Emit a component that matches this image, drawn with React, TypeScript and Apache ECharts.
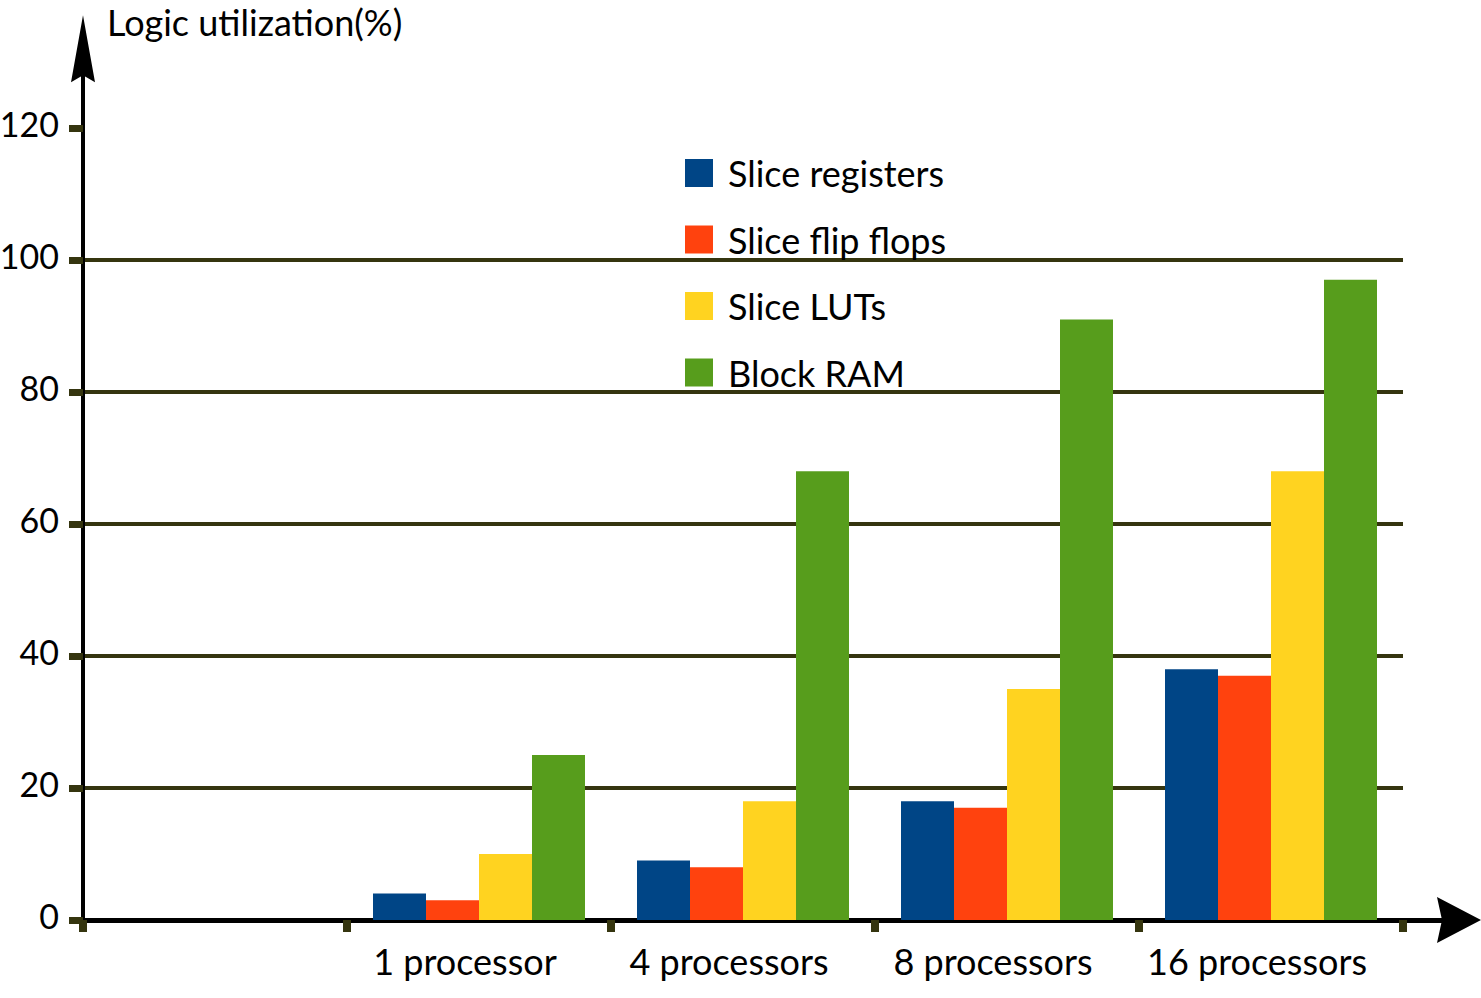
import React, { useEffect, useRef } from 'react';
import * as echarts from 'echarts';

const categories = ['', '1 processor', '4 processors', '8 processors', '16 processors'];
const seriesNames = ['Slice registers', 'Slice flip flops', 'Slice LUTs', 'Block RAM'];
const sliceRegisters = ['-', 4, 9, 18, 38];
const sliceFlipFlops = ['-', 3, 8, 17, 37];
const sliceLUTs = ['-', 10, 18, 35, 68];
const blockRAM = ['-', 25, 68, 91, 97];
const yTicks = [0, 20, 40, 60, 80, 100, 120];
const yTitle = 'Logic utilization(%)';

const colors = ['#004586', '#ff420e', '#ffd320', '#579d1c'];
const olive = '#35350f';
const FONT = "Lato, 'Open Sans', sans-serif";
const yArrow = 'path://M12,0 L24,67 L12,60 L0,67 Z';
const xArrow = 'path://M23,0 L46,44 L23,39 L0,44 Z';

export default function App() {
  const ref = useRef<HTMLDivElement>(null);
  useEffect(() => {
    if (!ref.current) return;
    const chart = echarts.init(ref.current, null, { renderer: 'svg' });
    const seriesData = [sliceRegisters, sliceFlipFlops, sliceLUTs, blockRAM];
    chart.setOption({
      animation: false,
      backgroundColor: '#ffffff',
      title: {
        text: yTitle,
        left: 107,
        top: 4,
        padding: 0,
        textStyle: { fontSize: 36, fontWeight: 'normal', fontFamily: FONT, color: '#000' },
      },
      legend: {
        orient: 'vertical',
        left: 685,
        top: 155,
        itemWidth: 28,
        itemHeight: 28,
        itemGap: 30.5,
        icon: 'rect',
        padding: 0,
        data: seriesNames,
        textStyle: { fontSize: 36, fontFamily: FONT, color: '#000', padding: [0, 0, 0, 10] },
      },
      grid: [
        { left: 83, right: 78, top: 48.8, bottom: 78, outerBoundsMode: 'none', containLabel: false },
        { left: 83, right: 22, top: 48.8, bottom: 78, outerBoundsMode: 'none', containLabel: false },
      ],
      xAxis: [
        {
          type: 'category',
          gridIndex: 0,
          data: categories,
          axisLine: { show: false },
          axisTick: { show: true, length: 12, lineStyle: { color: olive, width: 8 } },
          axisLabel: {
            interval: 0,
            fontSize: 36,
            fontFamily: FONT,
            color: '#000',
            margin: 23,
            padding: [0, 28, 0, 0],
          },
          splitLine: { show: false },
        },
        {
          type: 'value',
          gridIndex: 1,
          min: 0,
          max: 1,
          axisLine: {
            show: true,
            lineStyle: { color: '#000', width: 5 },
            symbol: ['none', xArrow],
            symbolSize: [46, 44],
          },
          axisTick: { show: false },
          axisLabel: { show: false },
          splitLine: { show: false },
        },
      ],
      yAxis: [
        {
          type: 'value',
          gridIndex: 0,
          min: 0,
          max: 132,
          interval: 20,
          axisLine: {
            show: true,
            onZero: false,
            lineStyle: { color: '#000', width: 4 },
            symbol: ['none', yArrow],
            symbolSize: [24, 67],
          },
          axisTick: { show: true, length: 14, customValues: yTicks, lineStyle: { color: olive, width: 7 } },
          axisLabel: {
            customValues: yTicks,
            color: '#000',
            margin: 24,
            formatter: '{v|{value}}',
            rich: {
              v: { fontSize: 34, fontFamily: FONT, color: '#000', padding: [0, 0, 10, 0] },
            },
          },
          splitLine: {
            show: true,
            showMinLine: false,
            showMaxLine: false,
            lineStyle: { color: [olive, olive, olive, olive, olive, 'rgba(0,0,0,0)'], width: 4 },
          },
        },
        { type: 'value', gridIndex: 1, min: 0, max: 1, show: false },
      ],
      series: seriesNames.map((name, i) => ({
        name,
        type: 'bar',
        xAxisIndex: 0,
        yAxisIndex: 0,
        barWidth: 53,
        barGap: '0%',
        data: seriesData[i],
        itemStyle: { color: colors[i] },
      })),
    });
    return () => chart.dispose();
  }, []);
  return <div ref={ref} style={{ position: 'absolute', left: 0, top: 0, width: 1481, height: 998 }} />;
}
